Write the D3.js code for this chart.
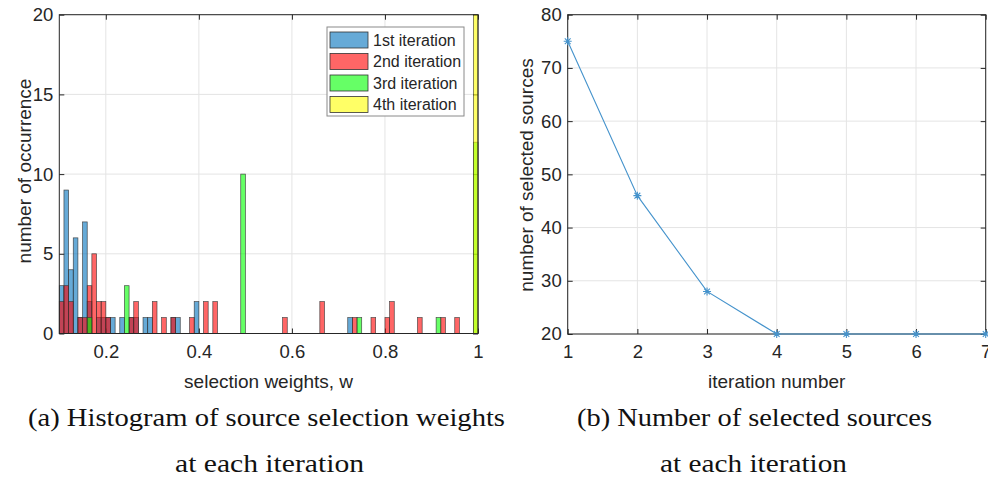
<!DOCTYPE html>
<html>
<head>
<meta charset="utf-8">
<script src="https://cdn.jsdelivr.net/npm/d3@7/dist/d3.min.js"></script>
<style>
  body { margin: 0; background: #fff; }
  text { font-family: "Liberation Sans", Arial, sans-serif; fill: #262626; }
  .caption { font-family: "Liberation Serif", "DejaVu Serif", serif; fill: #111; }
</style>
</head>
<body>
<svg id="fig" width="988" height="478"></svg>
<script>
// histogram bins are 0.01 wide, value = left edge of bin
const binWidth = 0.01;
const iter1Bins = [0.10, 0.11, 0.12, 0.13, 0.14, 0.15, 0.16, 0.18, 0.19, 0.20, 0.21, 0.23, 0.25, 0.26, 0.28, 0.29, 0.34, 0.35, 0.39, 0.72];
const iter1Counts = [3, 9, 4, 6, 1, 7, 2, 1, 1, 1, 1, 1, 1, 1, 1, 1, 1, 1, 2, 1];
const iter2Bins = [0.10, 0.11, 0.12, 0.14, 0.15, 0.16, 0.17, 0.18, 0.19, 0.20, 0.25, 0.26, 0.30, 0.32, 0.34, 0.38, 0.41, 0.43, 0.58, 0.66, 0.73, 0.77, 0.80, 0.81, 0.87, 0.92, 0.95];
const iter2Counts = [2, 3, 2, 1, 1, 3, 5, 2, 2, 1, 1, 2, 2, 1, 1, 1, 2, 2, 1, 2, 1, 1, 1, 2, 1, 1, 1];
const iter3Bins = [0.16, 0.24, 0.49, 0.74, 0.91, 0.99];
const iter3Counts = [1, 3, 10, 1, 1, 12];
const iter4Bins = [0.99];
const iter4Counts = [20];
const seriesNames = ['1st iteration', '2nd iteration', '3rd iteration', '4th iteration'];
const seriesColors = ['#0072BD', '#FF0000', '#00FF00', '#FFFF00'];

const histXTicks = [0.2, 0.4, 0.6, 0.8, 1];
const histYTicks = [0, 5, 10, 15, 20];

// right panel
const iterations = [1, 2, 3, 4, 5, 6, 7];
const selectedSources = [75, 46, 28, 20, 20, 20, 20];
const lineYTicks = [20, 30, 40, 50, 60, 70, 80];

const svg = d3.select('#fig');
const gridColor = '#e4e4e4';
const axisColor = '#262626';

function drawFrame(x, y, xTicks, yTicks, xFmt) {
    const [x0, x1] = x.range();
    const [y0, y1] = y.range();
    const g = svg.append('g');

    g.selectAll('.gx').data(xTicks).join('line')
        .attr('x1', d => x(d)).attr('x2', d => x(d))
        .attr('y1', y0).attr('y2', y1)
        .attr('stroke', gridColor);
    g.selectAll('.gy').data(yTicks).join('line')
        .attr('x1', x0).attr('x2', x1)
        .attr('y1', d => y(d)).attr('y2', d => y(d))
        .attr('stroke', gridColor);

    const bottom = g.append('g').attr('transform', `translate(0,${y0})`)
        .call(d3.axisBottom(x).tickValues(xTicks).tickFormat(xFmt).tickSize(-5).tickPadding(11));
    const left = g.append('g').attr('transform', `translate(${x0},0)`)
        .call(d3.axisLeft(y).tickValues(yTicks).tickFormat(d3.format('d')).tickSize(-5).tickPadding(6));
    const top = g.append('g').attr('transform', `translate(0,${y1})`)
        .call(d3.axisTop(x).tickValues(xTicks).tickFormat('').tickSize(-5));
    const right = g.append('g').attr('transform', `translate(${x1},0)`)
        .call(d3.axisRight(y).tickValues(yTicks).tickFormat('').tickSize(-5));

    [bottom, left, top, right].forEach(a => {
        a.select('.domain').remove();
        a.selectAll('line').attr('stroke', axisColor);
        a.selectAll('text').style('font-size', '18.5px').attr('fill', axisColor);
    });
    return g;
}

function drawBox(x, y) {
    const [x0, x1] = x.range();
    const [y0, y1] = y.range();
    svg.append('rect')
        .attr('x', x0).attr('y', y1)
        .attr('width', x1 - x0).attr('height', y0 - y1)
        .attr('fill', 'none').attr('stroke', axisColor).attr('stroke-width', 1);
}

// ---- (a) histogram
const hx = d3.scaleLinear([0.1, 1], [59.3, 478]);
const hy = d3.scaleLinear([0, 20], [333.5, 14.7]);
drawFrame(hx, hy, histXTicks, histYTicks, d => d === 1 ? '1' : d3.format('.1f')(d));

const series = [
    { bins: iter1Bins, counts: iter1Counts },
    { bins: iter2Bins, counts: iter2Counts },
    { bins: iter3Bins, counts: iter3Counts },
    { bins: iter4Bins, counts: iter4Counts }
];

series.forEach((s, k) => {
    svg.append('g').selectAll('rect')
        .data(s.bins.map((b, i) => ({ b: b, c: s.counts[i] })))
        .join('rect')
        .attr('x', d => hx(d.b))
        .attr('width', d => hx(d.b + binWidth) - hx(d.b))
        .attr('y', d => hy(d.c))
        .attr('height', d => hy(0) - hy(d.c))
        .attr('fill', seriesColors[k])
        .attr('fill-opacity', 0.6)
        .attr('stroke', '#333')
        .attr('stroke-opacity', 0.85)
        .attr('stroke-width', 0.7);
});
drawBox(hx, hy);

// legend
const legend = svg.append('g');
legend.append('rect')
    .attr('x', 327).attr('y', 27).attr('width', 137).attr('height', 89)
    .attr('fill', '#fff').attr('stroke', '#8a8a8a');
seriesNames.forEach((name, i) => {
    const cy = 40 + i * 21.5;
    legend.append('rect')
        .attr('x', 330).attr('y', cy - 8).attr('width', 38).attr('height', 16)
        .attr('fill', seriesColors[i]).attr('fill-opacity', 0.6)
        .attr('stroke', '#333').attr('stroke-width', 0.8);
    legend.append('text')
        .attr('x', 373).attr('y', cy + 5.5)
        .style('font-size', '16px')
        .text(name);
});

svg.append('text')
    .attr('x', 268.6).attr('y', 388)
    .attr('text-anchor', 'middle')
    .style('font-size', '19px')
    .text('selection weights, w');
svg.append('text')
    .attr('transform', 'translate(31,171) rotate(-90)')
    .attr('text-anchor', 'middle')
    .style('font-size', '19px')
    .text('number of occurrence');

// ---- (b) selected sources
const lx = d3.scaleLinear([1, 7], [567.7, 985.7]);
const ly = d3.scaleLinear([20, 80], [334, 14.7]);
drawFrame(lx, ly, iterations, lineYTicks, d3.format('d'));
drawBox(lx, ly);

const lineColor = '#4593cc';
svg.append('path')
    .datum(iterations.map((it, i) => [it, selectedSources[i]]))
    .attr('fill', 'none')
    .attr('stroke', lineColor)
    .attr('stroke-width', 1.1)
    .attr('d', d3.line().x(d => lx(d[0])).y(d => ly(d[1])));

const star = 'M-4,0L4,0M0,-4L0,4M-2.9,-2.9L2.9,2.9M-2.9,2.9L2.9,-2.9';
svg.append('g').selectAll('path')
    .data(iterations.map((it, i) => [it, selectedSources[i]]))
    .join('path')
    .attr('transform', d => `translate(${lx(d[0])},${ly(d[1])})`)
    .attr('d', star)
    .attr('stroke', lineColor)
    .attr('stroke-width', 1.1)
    .attr('fill', 'none');

svg.append('text')
    .attr('x', 776.7).attr('y', 388)
    .attr('text-anchor', 'middle')
    .style('font-size', '19px')
    .text('iteration number');
svg.append('text')
    .attr('transform', 'translate(533,175) rotate(-90)')
    .attr('text-anchor', 'middle')
    .style('font-size', '19px')
    .text('number of selected sources');

// ---- captions
const captions = [
    { x: 266.5, y: 426, w: 477, t: '(a) Histogram of source selection weights' },
    { x: 269.5, y: 472, w: 189, t: 'at each iteration' },
    { x: 754.5, y: 426, w: 355, t: '(b) Number of selected sources' },
    { x: 753.5, y: 472, w: 187, t: 'at each iteration' }
];
svg.selectAll('.caption').data(captions).join('text')
    .attr('class', 'caption')
    .attr('x', d => d.x).attr('y', d => d.y)
    .attr('text-anchor', 'middle')
    .attr('textLength', d => d.w)
    .attr('lengthAdjust', 'spacingAndGlyphs')
    .style('font-size', '25px')
    .text(d => d.t);
</script>
</body>
</html>
